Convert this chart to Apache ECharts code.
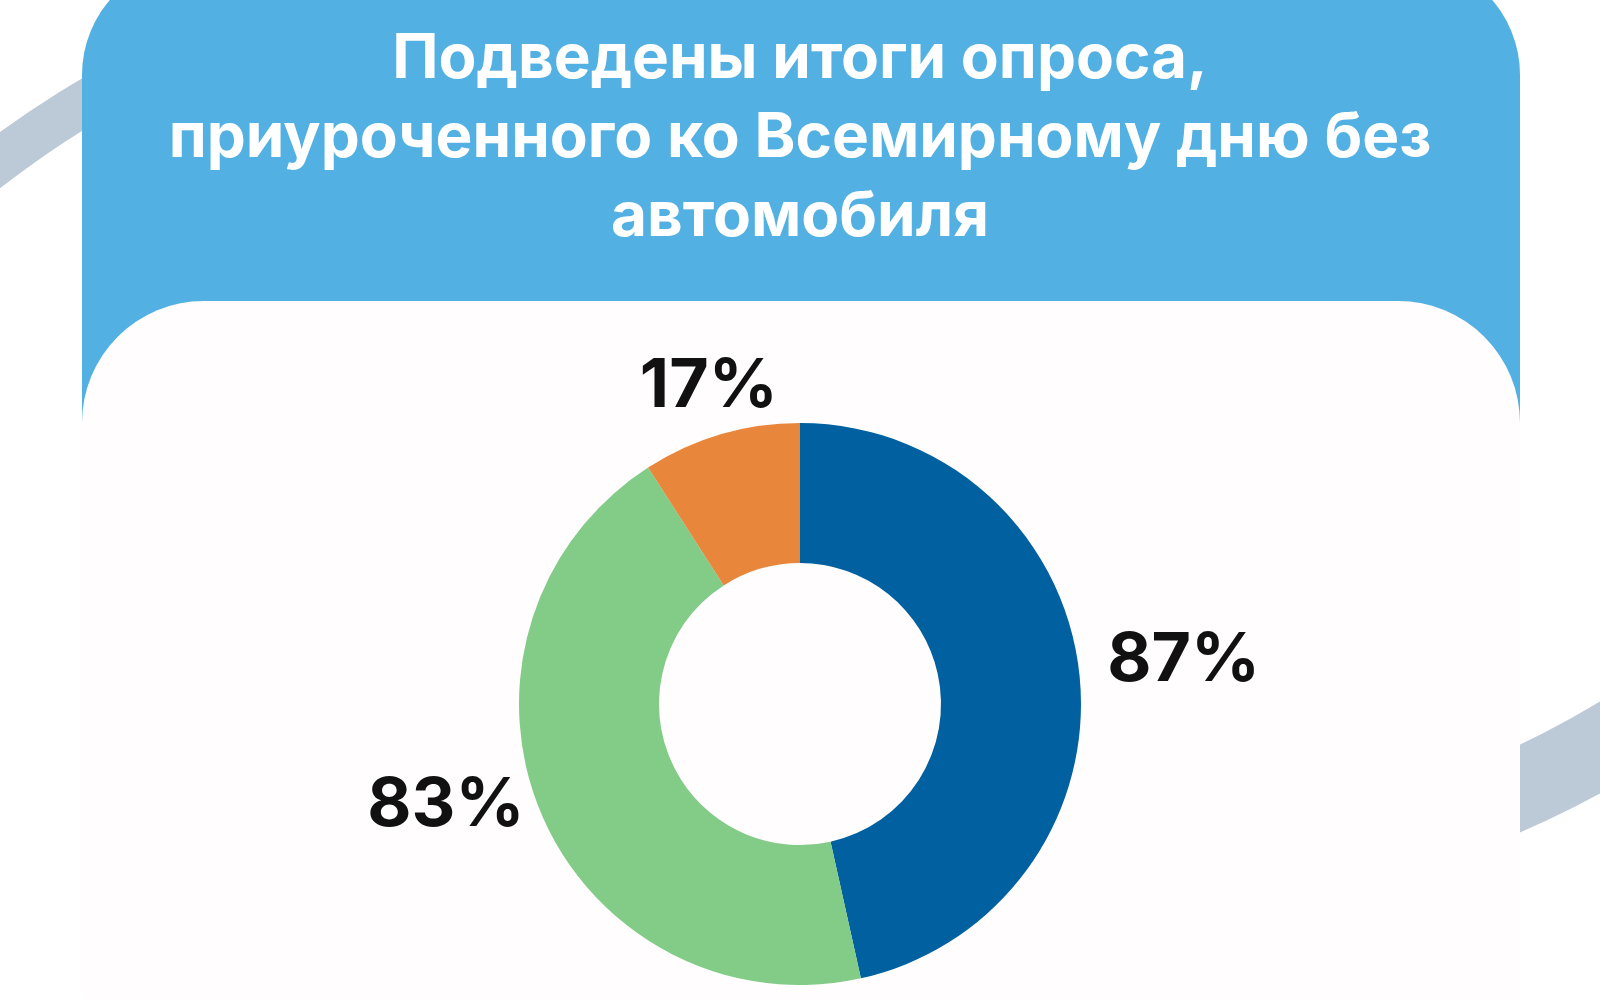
<!DOCTYPE html><html><head><meta charset="utf-8"><script src="https://cdn.jsdelivr.net/npm/echarts@6/dist/echarts.min.js"></script>
<style>html,body{margin:0;background:#fff}#c{width:1600px;height:1000px}</style></head><body><div id="c"></div><script>
const categories=['Категория 1','Категория 2','Категория 3'];
const values=[87,83,17];
const labels=['87%','83%','17%'];
const colors=['#0060a0','#82cc88','#e8873c'];
const titleLines=['Подведены итоги опроса,','приуроченного ко Всемирному дню без','автомобиля'];
const labelShift=[[-2,-10],[12,-16],[69,-24]];
const ch=echarts.init(document.getElementById('c'));
ch.setOption({
graphic:[
{type:'arc',shape:{cx:600,cy:960,r:1000,startAngle:-2.6,endAngle:-1.8},style:{stroke:'#bccad8',lineWidth:45,fill:null},z:-10},
{type:'arc',shape:{cx:1100,cy:-130,r:1010,startAngle:0.9,endAngle:1.3},style:{stroke:'#bccad8',lineWidth:80,fill:null},z:-10},
{type:'rect',shape:{x:82,y:-40,width:1438,height:1100,r:115},style:{fill:'#52b0e2'},z:-5},
{type:'rect',shape:{x:82,y:301,width:1438,height:800,r:122},style:{fill:'#fffdfe'},z:-4},
...titleLines.map((t,i)=>({type:'text',left:'center',top:28+i*79,style:{text:t,fill:'#fff',font:'bold 62px Inter, "Noto Sans", sans-serif',textAlign:'center'},z:5}))
],
series:[{type:'pie',center:[800,704],radius:[141,281],startAngle:90,clockwise:true,
 data:values.map((v,i)=>({value:v,name:categories[i],itemStyle:{color:colors[i]},label:{formatter:labels[i]}})),
 label:{show:true,position:'outside',color:'#111',fontSize:68,fontWeight:'bold',fontFamily:'Inter, "Noto Sans", sans-serif'},
 labelLine:{show:false,length:25,length2:0},
 labelLayout:p=>({dx:labelShift[p.dataIndex][0],dy:labelShift[p.dataIndex][1]}),
 emphasis:{disabled:true},animation:false}]
});
</script></body></html>
